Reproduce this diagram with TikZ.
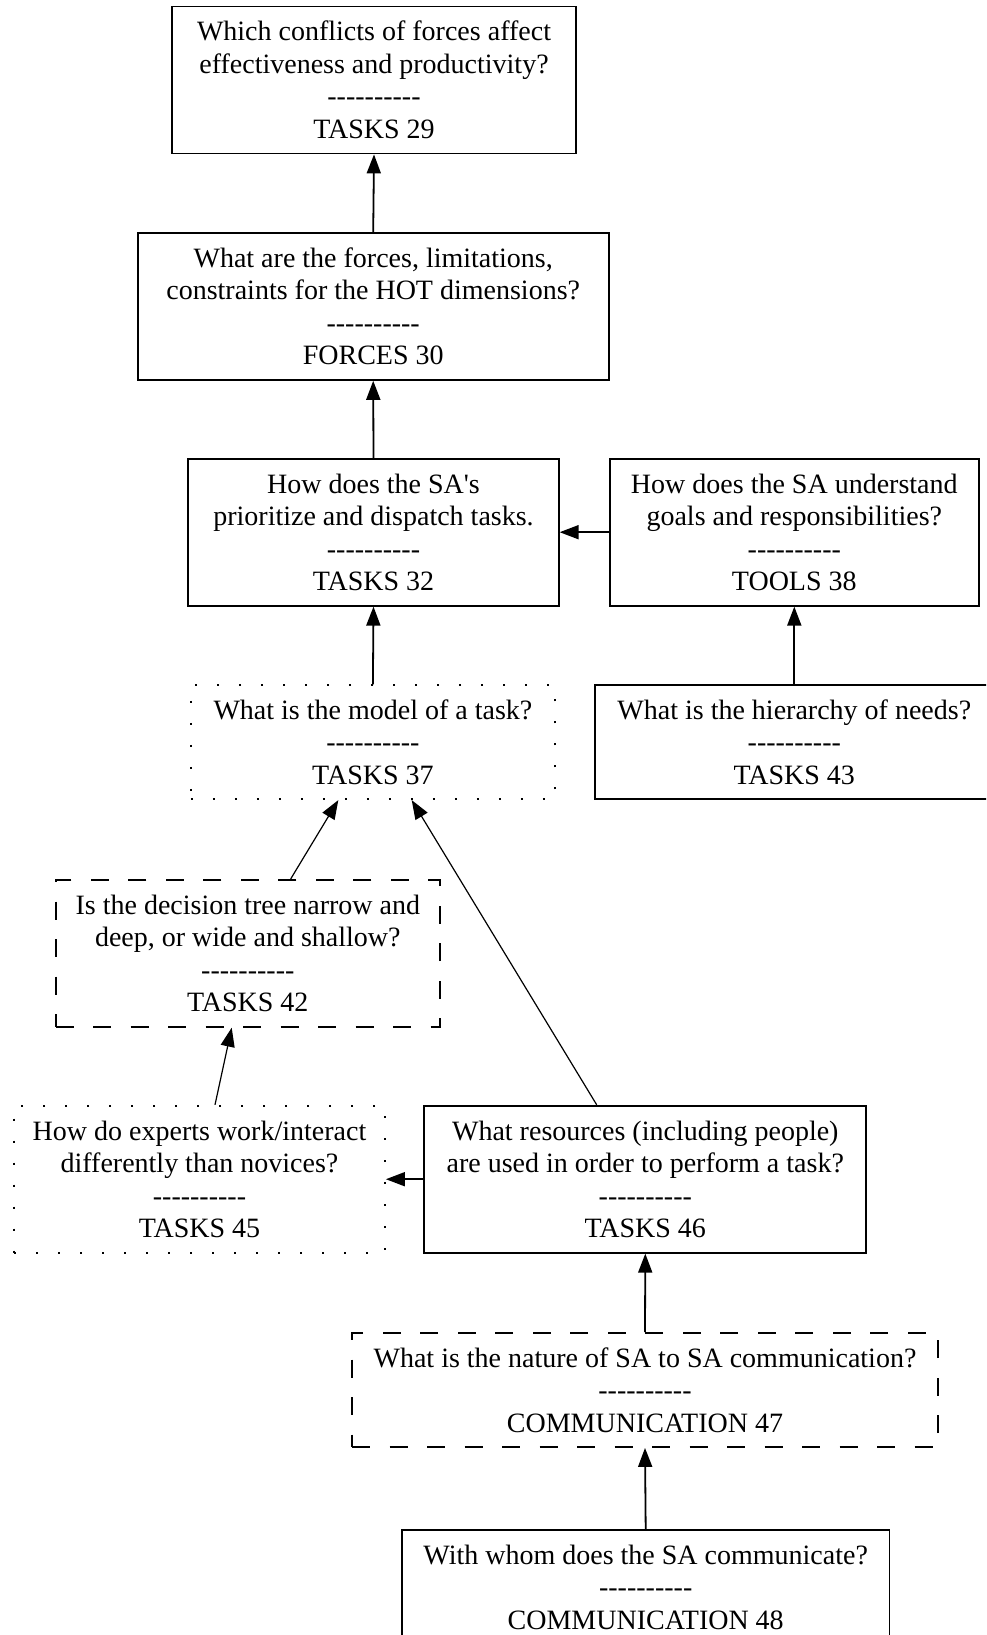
\documentclass[tikz,border=0pt]{standalone}
\usepackage{fontspec}
\setmainfont{Liberation Serif}
\usetikzlibrary{arrows.meta}
% ten hyphens, kept apart so they do not turn into dashes
\newcommand\sepdash{-{}-{}-{}-{}-{}-{}-{}-{}-{}-}

\begin{document}
\begin{tikzpicture}[x=1pt,y=-1pt,
  qbox/.style={draw, line width=1.8pt, align=center, inner sep=0pt,
               font=\fontsize{28}{32.5}\selectfont},
  dashbox/.style={qbox, dash pattern=on 18pt off 19.5pt},
  dotbox/.style={qbox, dash pattern=on 2pt off 20pt},
  tall/.style={minimum height=147pt},
  short/.style={minimum height=114pt},
  link/.style={line width=1.8pt, -{Triangle[length=19pt,width=14pt]}},
  slant/.style={line width=1.2pt, -{Triangle[length=19pt,width=14pt]}},
]
\clip (0,0) rectangle (986,1635);
\useasboundingbox (0,0) rectangle (986,1635);

% question boxes
\node[qbox, tall, minimum width=404pt] (t29) at (374,80)
  {Which conflicts of forces affect\\effectiveness and productivity?\\\sepdash\\TASKS 29};
\node[qbox, tall, minimum width=471pt] (f30) at (373.2,306.4)
  {What are the forces, limitations,\\constraints for the HOT dimensions?\\\sepdash\\FORCES 30};
\node[qbox, tall, minimum width=370.5pt] (t32) at (373.5,532.2)
  {How does the SA\textquotesingle s\\prioritize and dispatch tasks.\\\sepdash\\TASKS 32};
\node[qbox, tall, minimum width=369.4pt] (o38) at (794.3,532.2)
  {How does the SA understand\\goals and responsibilities?\\\sepdash\\TOOLS 38};
\node[dotbox, short, minimum width=364.2pt] (t37) at (372.9,742.2)
  {What is the model of a task?\\\sepdash\\TASKS 37};
\node[qbox, short, minimum width=398.6pt] (t43) at (794.3,742.2)
  {What is the hierarchy of needs?\\\sepdash\\TASKS 43};
\node[dashbox, tall, minimum width=384.3pt] (t42) at (247.8,953.3)
  {Is the decision tree narrow and\\deep, or wide and shallow?\\\sepdash\\TASKS 42};
\node[dotbox, tall, minimum width=371pt] (t45) at (199.5,1179.2)
  {How do experts work/interact\\differently than novices?\\\sepdash\\TASKS 45};
\node[qbox, tall, minimum width=442pt] (t46) at (645.3,1179.2)
  {What resources (including people)\\are used in order to perform a task?\\\sepdash\\TASKS 46};
\node[dashbox, short, minimum width=586pt] (c47) at (645,1390)
  {What is the nature of SA to SA communication?\\\sepdash\\COMMUNICATION 47};
\node[qbox, short, minimum width=487.5pt] (c48) at (645.7,1587)
  {With whom does the SA communicate?\\\sepdash\\COMMUNICATION 48};

% connectors
\draw[link] (f30.north) -- (t29.south);
\draw[link] (t32.north) -- (f30.south);
\draw[link] (o38.west) -- (t32.east);
\draw[link] (t37.north) -- (t32.south);
\draw[link] (t43.north) -- (o38.south);
\draw[slant] ([xshift=42.9pt]t42.north) -- ([xshift=-34.6pt]t37.south);
\draw[slant] ([xshift=-48.6pt]t46.north) -- ([xshift=38.8pt]t37.south);
\draw[slant] ([xshift=15.5pt]t45.north) -- ([xshift=-16.1pt]t42.south);
\draw[link] (t46.west) -- (t45.east);
\draw[link] (c47.north) -- (t46.south);
\draw[link] (c48.north) -- (c47.south);
\end{tikzpicture}
\end{document}
